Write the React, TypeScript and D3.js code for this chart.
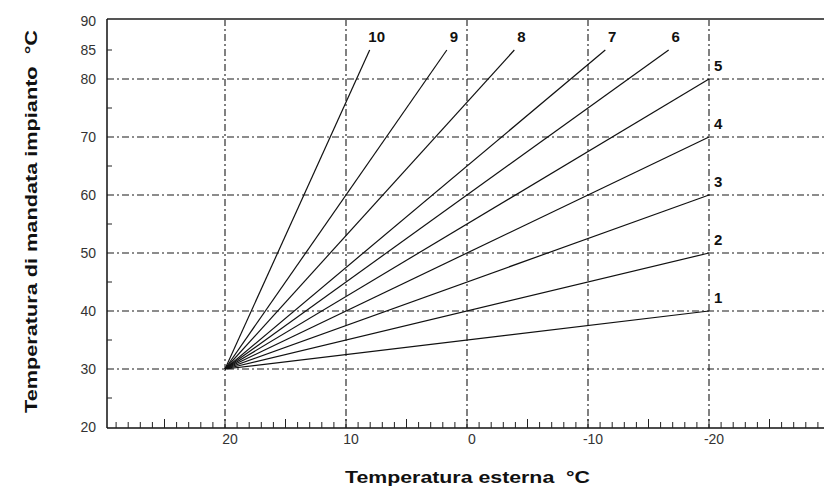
import React from "react";
import * as d3 from "d3";

// Data: each curve starts at (outdoor 20°C, flow 30°C) and ends at given point
const curveIds = ["1", "2", "3", "4", "5", "6", "7", "8", "9", "10"];
const curveSlopes = [0.25, 0.5, 0.75, 1.0, 1.25, 1.5, 1.75, 2.3, 3.0, 4.6];
const curveStartX = 20;
const curveStartY = 30;
const maxFlow = 85;
const minOutdoor = -20;
const xTickValues = [20, 10, 0, -10, -20];
const yTickValues = [20, 30, 40, 50, 60, 70, 80, 85, 90];
const yGridValues = [30, 40, 50, 60, 70, 80];

const W = 824;
const H = 488;

export default function App() {
  const x = d3.scaleLinear().domain([20, -20]).range([225, 709]);
  const y = d3.scaleLinear().domain([30, 80]).range([369, 79]);
  const left = 107;
  const right = W;
  const top = 19;
  const bottom = 428;

  const curves = curveSlopes.map((s, i) => {
    const endY = Math.min(maxFlow, curveStartY + s * (curveStartX - minOutdoor));
    const endX = curveStartX - (endY - curveStartY) / s;
    return { id: curveIds[i], pts: [[curveStartX, curveStartY], [endX, endY]] as [number, number][] };
  });
  const line = d3.line<[number, number]>().x((d) => x(d[0])).y((d) => y(d[1]));

  const minorX = d3.range(29, -31, -1).filter((v) => x(v) > left && x(v) < right);
  const minorY = [25, 35, 45, 55, 65, 75, 85];
  const dash = "7,3,2,3";

  return (
    <svg width={W} height={H} style={{ display: "block", position: "absolute", left: 0, top: 0 }} fontFamily="Liberation Sans, Arial, sans-serif">
      <rect width={W} height={H} fill="#fff" />
      {/* grid */}
      {xTickValues.map((v) => (
        <line key={"gx" + v} x1={x(v)} x2={x(v)} y1={top} y2={bottom} stroke="#1a1a1a" strokeWidth={1.1} strokeDasharray={dash} />
      ))}
      {yGridValues.map((v) => (
        <line key={"gy" + v} x1={left} x2={right} y1={y(v)} y2={y(v)} stroke="#1a1a1a" strokeWidth={1.1} strokeDasharray={dash} />
      ))}
      {/* frame */}
      <line x1={left} x2={right} y1={top} y2={top} stroke="#555" strokeWidth={2} />
      <line x1={left} x2={left} y1={top} y2={bottom} stroke="#111" strokeWidth={1.5} />
      <line x1={left} x2={right} y1={bottom} y2={bottom} stroke="#111" strokeWidth={1.5} />
      {/* minor ticks */}
      {minorX.map((v) => (
        <line key={"mx" + v} x1={x(v)} x2={x(v)} y1={bottom} y2={bottom - (v % 5 === 0 ? 9 : 6)} stroke="#222" strokeWidth={1} />
      ))}
      {minorY.map((v) => (
        <line key={"my" + v} x1={left} x2={left + 5} y1={y(v)} y2={y(v)} stroke="#222" strokeWidth={1} />
      ))}
      {/* tick labels */}
      {yTickValues.map((v) => (
        <text key={"ty" + v} x={96} y={y(v) + 5} textAnchor="end" fontSize={14} fill="#333">{v}</text>
      ))}
      {xTickValues.map((v) => (
        <text key={"tx" + v} x={x(v) + 5} y={444} textAnchor="middle" fontSize={14} fill="#333">{v}</text>
      ))}
      {/* curves */}
      {curves.map((c) => (
        <path key={"c" + c.id} d={line(c.pts) || ""} fill="none" stroke="#111" strokeWidth={1.2} />
      ))}
      {/* curve labels */}
      {curves.map((c) => {
        const [ex, ey] = c.pts[1];
        const atTop = ey >= maxFlow;
        const lx = atTop ? x(ex) + 7 : x(ex) + 5;
        const ly = y(ey) - 8;
        return (
          <text key={"l" + c.id} x={lx} y={ly} textAnchor={atTop ? "middle" : "start"} fontSize={15} fontWeight="bold" fill="#111">{c.id}</text>
        );
      })}
      {/* axis titles */}
      <text x={345} y={483} fontSize={16} fontWeight="bold" fill="#111" textLength={245} lengthAdjust="spacingAndGlyphs" style={{ whiteSpace: "pre" }}>{"Temperatura esterna  °C"}</text>
      <text transform="translate(37,413) rotate(-90)" fontSize={16} fontWeight="bold" fill="#111" textLength={383} lengthAdjust="spacingAndGlyphs" style={{ whiteSpace: "pre" }}>{"Temperatura di mandata impianto  °C"}</text>
    </svg>
  );
}
